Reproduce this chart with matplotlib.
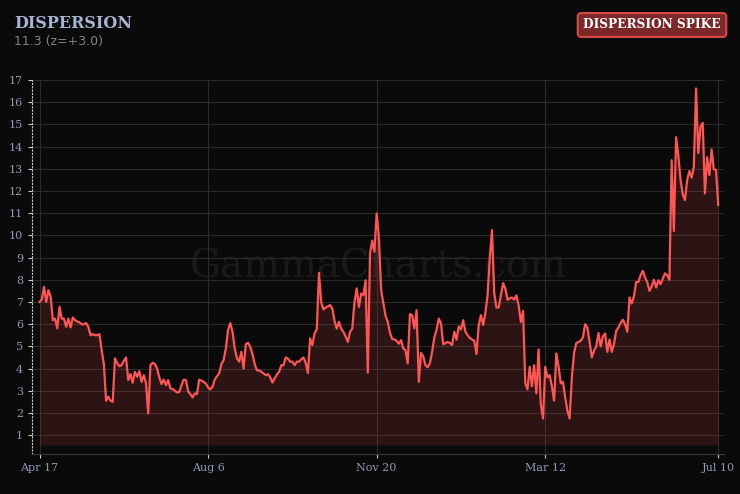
import numpy as np
import matplotlib
matplotlib.use('Agg')
import matplotlib.pyplot as plt

# ---- data ----
dispersion = [
    7.0, 7.1, 7.68, 7.0, 7.53, 7.23, 6.18, 6.25, 5.81, 6.78,
    6.25, 6.25, 5.88, 6.25, 5.85, 6.3, 6.18, 6.12, 6.08, 6.0,
    5.99, 6.05, 5.88, 5.5, 5.55, 5.5, 5.5, 5.55, 4.83, 4.2,
    2.55, 2.73, 2.55, 2.5, 4.46, 4.25, 4.1, 4.15, 4.35, 4.5,
    3.48, 3.75, 3.36, 3.85, 3.63, 3.88, 3.4, 3.7, 3.33, 1.98,
    4.15, 4.26, 4.2, 4.0, 3.6, 3.3, 3.5, 3.25, 3.48, 3.1,
    3.08, 3.0, 2.92, 2.95, 3.25, 3.5, 3.48, 2.97, 2.85, 2.7,
    2.88, 2.85, 3.5, 3.45, 3.4, 3.32, 3.15, 3.06, 3.18, 3.5,
    3.65, 3.78, 4.2, 4.38, 4.9, 5.75, 6.05, 5.65, 4.9, 4.46,
    4.31, 4.75, 4.0, 5.1, 5.16, 4.98, 4.65, 4.2, 3.92, 3.92,
    3.85, 3.78, 3.7, 3.75, 3.6, 3.37, 3.55, 3.73, 3.85, 4.15,
    4.15, 4.5, 4.45, 4.31, 4.31, 4.15, 4.31, 4.31, 4.42, 4.5,
    4.25, 3.8, 5.36, 5.06, 5.58, 5.76, 8.31, 7.0, 6.66, 6.75,
    6.8, 6.86, 6.7, 6.15, 5.8, 6.1, 5.8, 5.65, 5.45, 5.2,
    5.65, 5.8, 7.0, 7.61, 6.78, 7.38, 7.3, 7.98, 3.81, 9.19,
    9.76, 9.27, 10.99, 9.94, 7.53, 6.95, 6.38, 6.1, 5.6, 5.33,
    5.31, 5.25, 5.12, 5.28, 4.9, 4.83, 4.23, 6.45, 6.4, 5.81,
    6.63, 3.4, 4.7, 4.55, 4.15, 4.06, 4.25, 4.75, 5.4, 5.74,
    6.25, 6.03, 5.1, 5.14, 5.2, 5.15, 5.06, 5.66, 5.3, 5.9,
    5.76, 6.18, 5.66, 5.5, 5.38, 5.31, 5.25, 4.65, 5.95, 6.41,
    5.96, 6.5, 7.3, 9.0, 10.24, 7.4, 6.75, 6.75, 7.3, 7.85,
    7.6, 7.1, 7.16, 7.2, 7.1, 7.3, 6.85, 6.1, 6.6, 3.35,
    3.06, 4.08, 3.2, 4.15, 2.88, 4.86, 2.4, 1.75, 4.08, 3.6,
    3.7, 3.2, 2.55, 4.68, 4.1, 3.33, 3.4, 2.7, 2.1, 1.75,
    3.6, 4.7, 5.15, 5.2, 5.25, 5.4, 6.0, 5.85, 5.2, 4.5,
    4.8, 5.0, 5.6, 5.0, 5.45, 5.58, 4.75, 5.31, 4.75, 5.1,
    5.7, 5.85, 6.05, 6.2, 6.0, 5.66, 7.2, 6.93, 7.26, 7.9,
    7.9, 8.2, 8.4, 8.1, 7.9, 7.5, 7.7, 8.0, 7.65, 7.98,
    7.8, 8.05, 8.29, 8.2, 8.0, 13.39, 10.2, 14.42, 13.6, 12.5,
    11.85, 11.59, 12.5, 12.9, 12.6, 13.1, 16.62, 13.7, 14.9, 15.07,
    11.89, 13.52, 12.72, 13.87, 12.98, 12.95, 11.37,
]
tick_idx = [0, 76, 152, 228, 306]
tick_labels = ['Apr 17', 'Aug 6', 'Nov 20', 'Mar 12', 'Jul 10']
y_ticks = list(range(1, 18))
title = 'DISPERSION'
subtitle = '11.3 (z=+3.0)'
badge = 'DISPERSION SPIKE'

# ========== Figure ========== #
BG = '#0a0a0a'
LINE = '#ff5555'
TICKC = '#8e9ab6'
fig = plt.figure(figsize=(7.4, 4.94), dpi=100, facecolor=BG)
ax = fig.add_axes([32/740, 1 - 454/494, 692/740, 374/494])
ax.set_facecolor(BG)

x = np.arange(len(dispersion))
ax.fill_between(x, dispersion, 0.55, color=LINE, alpha=0.14, lw=0)
ax.plot(x, dispersion, color=LINE, lw=1.6, solid_joinstyle='round')

ax.set_xlim(-3.4, 308.6)
ax.set_ylim(0.15, 17.0)
ax.set_xticks(tick_idx)
ax.set_xticklabels(tick_labels)
ax.set_yticks(y_ticks)

ax.grid(True, color='#2a2a2a', lw=0.8)
ax.set_axisbelow(True)
for s in ['top', 'right']:
    ax.spines[s].set_visible(False)
ax.spines['left'].set_color('#cccccc')
ax.spines['left'].set_linestyle((0, (1, 2)))
ax.spines['left'].set_linewidth(0.8)
ax.spines['bottom'].set_color('#3a3a3a')
ax.tick_params(colors='#cccccc', length=3, width=0.8, labelcolor=TICKC, labelsize=8)
for lab in ax.get_xticklabels() + ax.get_yticklabels():
    lab.set_family('DejaVu Serif')

# watermark
ax.text(0.5, 0.5, 'GammaCharts.com', transform=ax.transAxes, ha='center', va='center',
        fontsize=28, family='DejaVu Serif', color='#ffffff', alpha=0.065, zorder=0)

# ========== Header ========== #
fig.text(14/740, 1 - 23.5/494, title, family='DejaVu Serif', weight='bold',
         fontsize=11.5, color='#a8b4d4', va='center', ha='left')
fig.text(14/740, 1 - 41/494, subtitle, family='DejaVu Sans',
         fontsize=9, color='#7d838e', va='center', ha='left')
fig.text(652/740, 1 - 25/494, badge, family='DejaVu Serif', weight='bold',
         fontsize=8.7, color='#ffffff', va='center', ha='center',
         bbox=dict(boxstyle='round,pad=0.45,rounding_size=0.3', fc='#7a2828', ec='#d94848', lw=1.5))

fig.savefig('out.png', dpi=100, facecolor=BG)
